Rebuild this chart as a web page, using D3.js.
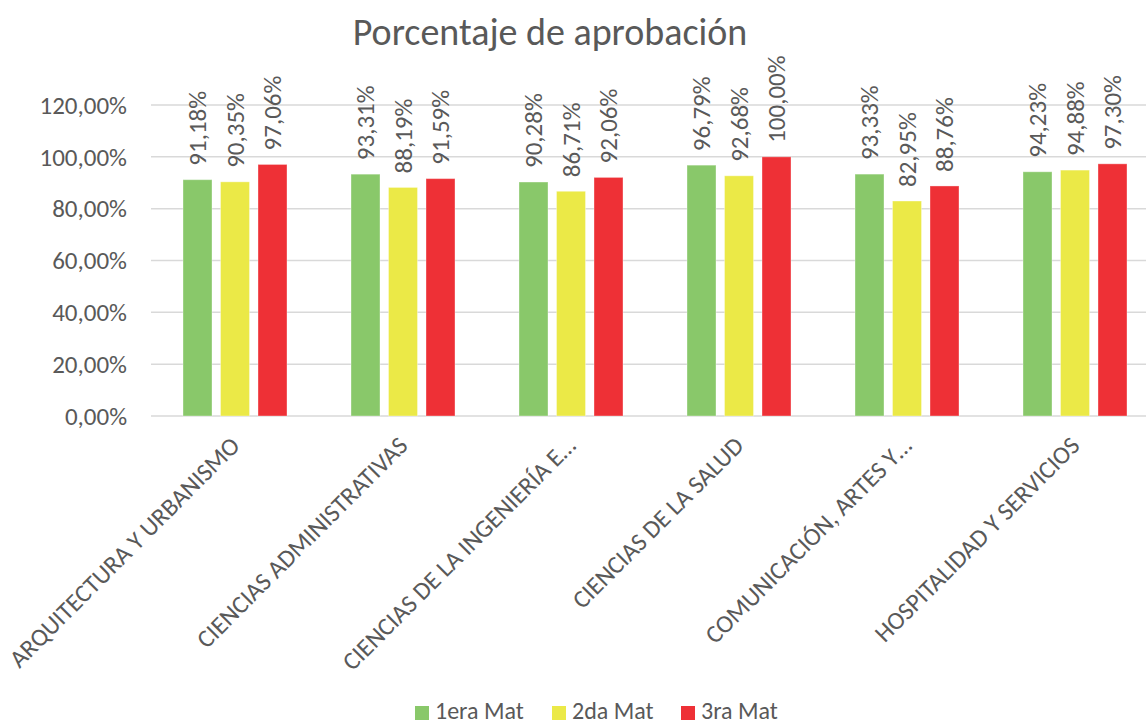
<!DOCTYPE html>
<html>
<head>
<meta charset="utf-8">
<script src="https://cdn.jsdelivr.net/npm/d3@7"></script>
<style>
  body { margin: 0; background: #fff; }
  text { font-family: Carlito, Lato, sans-serif; fill: #595959; }
</style>
</head>
<body>
<svg id="chart" width="1146" height="725"></svg>
<script>
// data
var categories = ['ARQUITECTURA Y URBANISMO', 'CIENCIAS ADMINISTRATIVAS', 'CIENCIAS DE LA INGENIERÍA E…',
    'CIENCIAS DE LA SALUD', 'COMUNICACIÓN, ARTES Y…', 'HOSPITALIDAD Y SERVICIOS'];
var series = ['1era Mat', '2da Mat', '3ra Mat'];
var primera = [0.9118, 0.9331, 0.9028, 0.9679, 0.9333, 0.9423];
var segunda = [0.9035, 0.8819, 0.8671, 0.9268, 0.8295, 0.9488];
var tercera = [0.9706, 0.9159, 0.9206, 1.0000, 0.8876, 0.9730];
var yTicks = [0, 0.2, 0.4, 0.6, 0.8, 1.0, 1.2];
var colors = ['#89c86a', '#ebe947', '#ee3036'];

var values = [primera, segunda, tercera];
var svg = d3.select('#chart');

var fmt = function (v) { return d3.format('.2f')(v * 100).replace('.', ',') + '%'; };

var y = d3.scaleLinear().domain([0, 1.2]).range([416, 105]);
var x0 = d3.scaleBand().domain(categories).range([151, 1159]).paddingInner(0.381).paddingOuter(0.1905);
var x1 = d3.scaleBand().domain(series).range([0, x0.bandwidth()]).paddingInner(0.227);

// title
svg.append('text')
    .attr('x', 550).attr('y', 45)
    .attr('text-anchor', 'middle')
    .style('font-size', '38px')
    .text('Porcentaje de aprobación');

// gridlines
svg.append('g').selectAll('line')
    .data(yTicks)
    .join('line')
    .attr('x1', 151).attr('x2', 1159)
    .attr('y1', function (d) { return y(d); })
    .attr('y2', function (d) { return y(d); })
    .attr('stroke', '#d9d9d9')
    .attr('stroke-width', 1.5);

// y axis labels
svg.append('g').selectAll('text')
    .data(yTicks)
    .join('text')
    .attr('x', 127)
    .attr('y', function (d) { return y(d); })
    .attr('dy', '0.35em')
    .attr('text-anchor', 'end')
    .style('font-size', '25px')
    .text(fmt);

// bars
var groups = svg.append('g').selectAll('g')
    .data(categories)
    .join('g')
    .attr('transform', function (d) { return 'translate(' + x0(d) + ',0)'; });

groups.selectAll('rect')
    .data(function (d, i) { return series.map(function (s, j) { return { s: s, v: values[j][i], c: colors[j] }; }); })
    .join('rect')
    .attr('x', function (d) { return x1(d.s); })
    .attr('y', function (d) { return y(d.v); })
    .attr('width', x1.bandwidth())
    .attr('height', function (d) { return y(0) - y(d.v); })
    .attr('fill', function (d) { return d.c; })
    .attr('stroke', '#ffffff')
    .attr('stroke-opacity', 0.35)
    .attr('stroke-width', 1);

// value labels
groups.selectAll('text')
    .data(function (d, i) { return series.map(function (s, j) { return { s: s, v: values[j][i] }; }); })
    .join('text')
    .attr('transform', function (d) {
        return 'translate(' + (x1(d.s) + x1.bandwidth() / 2) + ',' + (y(d.v) - 14) + ') rotate(-90)';
    })
    .attr('dy', '0.35em')
    .style('font-size', '25px')
    .text(function (d) { return fmt(d.v); });

// category labels
svg.append('g').selectAll('text')
    .data(categories)
    .join('text')
    .attr('transform', function (d) {
        return 'translate(' + (x0(d) + x0.bandwidth() / 2) + ',441) rotate(-45)';
    })
    .attr('text-anchor', 'end')
    .attr('dy', '0.35em')
    .style('font-size', '25px')
    .text(function (d) { return d; });

// legend
var legendX = [415, 552, 681];
var legend = svg.append('g').selectAll('g')
    .data(series)
    .join('g')
    .attr('transform', function (d, i) { return 'translate(' + legendX[i] + ',706)'; });
legend.append('rect')
    .attr('width', 14).attr('height', 14)
    .attr('fill', function (d, i) { return colors[i]; });
legend.append('text')
    .attr('x', 20).attr('y', 13)
    .style('font-size', '24px')
    .text(function (d) { return d; });
</script>
</body>
</html>
